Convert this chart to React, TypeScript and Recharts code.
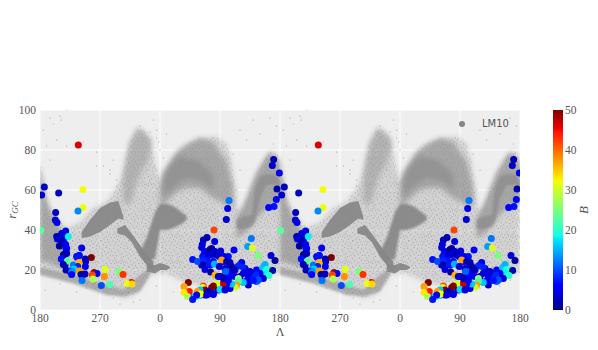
import React from "react";
import {
  ComposedChart, BarChart, Bar, Area, Scatter, XAxis, YAxis, CartesianGrid,
} from "recharts";

// Tick labels
const lambdaTicks = [0, 90, 180, 270, 360, 450, 540, 630, 720];
const lambdaLabels = ["180", "270", "0", "90", "180", "270", "0", "90", "180"];
const rTicks = [0, 20, 40, 60, 80, 100];
const bTicks = [0, 10, 20, 30, 40, 50];

// Coloured stars: unwrapped longitude (0 = Λ 180), distance, B
const starL = [230,240,247.5,255,260,267.5,275,282.5,292.5,302.5,311,320,330,340,347.5,245,250,255,247.5,262.5,270,275,285,292.5,300,307.5,315,322.5,277.5,285,270,260,255,242.5,277.5,300,287.5,312.5,305,292.5,325,237.5,
  32.5,37.5,30,35,32.5,40,50,55,59,35,32.5,37.5,47.5,45,65,
  57.5,64.5,6.5,2.5,28,23.5,64.5,57,23,25.5,1,34,38.5,25,26,32.5,42.5,29,38.5,39,62.5,36,40,58.5,56,77,68,68.5,32,41,35,68,39,58.5,56.5,51,47.5,48.5,47.5,59,62.5,61.5,67.5,81,85.5,78.5,97.5,96.5,118.5,124.5,79.5,63,92,104.5,137,131,138,
  350.5,348.5,359,355.5,354.5,351,343,283.5,281.5,279.5,261,317,311.5,318.5,327.5,346.5,352.5,250.5,245,243.5,242.5,262,291,257.5,255,260,271,246.5,244,252.5,257.5,265,269,282.5,276,229,236.5,250,245,272.5,261.5,269,280,285,302.5,287.5,297.5,305,245,247.5,256,278.5,291,307.5,314,325,334,337.5,340,345,340,349,343.5,330,324,335,327.5,320,312.5,305,297.5,297.5,295,292.5,285,287.5,280,275,265,260,257.5,245,244,247.5,252.5,240,236,241,222.5,216,224,216,221,232.5,229,235,250,260,270,277.5,262.5,267.5,275,282.5];
const starR = [6.2,7.2,7.5,8.3,7.8,10,10.5,11.2,12.5,14.2,15,15.8,16.2,18.7,20,24.2,25.8,27.5,29.2,29.2,26.7,24.2,22.5,20,22.5,20.8,19.2,18.3,17.5,16.7,16.7,24.2,22.5,22.5,20.8,16.7,19,17.5,18.3,16.7,14.2,7.5,
  38.3,38.3,36.7,35,33.3,30.8,22.5,26.7,27.2,27.5,25.5,22.5,20,19.2,17.8,
  82.5,60.3,61.5,57.5,58.5,48.8,51.2,49.5,45,43.8,39.7,38.3,39.5,36.7,35.5,34.5,36.7,32,32.8,30.8,31,27.8,28.3,27.2,26.2,26.2,25.5,24.2,25.5,24.5,22.8,21.7,20,23.7,21.7,20.5,19.2,18.8,17.8,19.5,18.8,17.8,18,18.8,18.3,17.5,20.3,16.8,19.3,17.7,15.5,14.8,12.2,12.7,13.7,13.2,13,
  75.2,72.2,68.5,60.5,55.2,51.8,51.2,54.7,50.7,45.3,40,35.8,31.7,31,27.3,27.2,24.7,36.3,35,32.8,31.3,34.2,30,30.8,30.3,29.2,29.5,28.3,26.7,27.5,27.8,27.5,26.7,26.7,26.7,25.2,24.2,25,24.2,25,23,21.7,24.2,23.7,23.8,21.7,22,21.3,22.5,20.3,19,19.3,20.3,18.7,18.3,20,21.3,22.8,20.3,19.2,18.3,19.7,17.3,18.3,17.5,15.8,15,14.7,12.5,13.7,15.8,14.2,12.5,11.3,10.8,13,13,13.3,13.3,12,11.2,12,11.3,10,9.2,10,9.2,8,13.8,11.7,9.3,8.7,6.7,6.7,5.3,7.5,7.5,8.3,10.3,10,17.5,16.7,15.8,14.7];
const starB = [8,16,5,5,4,3,4,12,17,5,5,9,11,17,21,7,5,3,6,5,3,5,3,5,7,3,3,4,3,6,3,5,7,3,3,3,5,5,4,4,11,20,
  4,4,3,4,4,4,12,5,7,2,6,2,14,4,2,
  46,32,3,3,3,3,32,13,4,4,23,4,4,2,4,2,18,1,5,5,5,1,2,7,7,50,2,2,7,23,2,5,2,36,8,16,11,14,6,37,37,2,2,48,5,42,31,38,25,43,28,12,10,22,45,32,34,
  2,3,5,2,5,7,6,12,4,3,42,12,14,31,25,4,1,2,2,4,4,4,5,2,1,2,4,6,7,2,4,2,4,7,5,7,10,7,8,37,15,4,2,2,5,2,8,8,2,4,1,11,2,4,4,6,16,15,20,24,18,2,20,5,8,4,10,7,3,16,26,22,37,30,5,16,5,47,30,50,50,42,30,50,2,16,37,32,50,37,44,33,28,17,7,5,4,4,17,4,36,4,2,5];

// Sparse LM10 particles outside the dense streams
const sparseL = [40,15,20,30,32,5,10,25,40,15,65,85,95,105,110,115,85,105,115,120,175,180,190,150,170,175,178,165,185,160,300,310,320,330,345,355,290,300,285,295,330,340,350,8,30,55,70,110,150,175,200,215,230,255,270,300,330,345,120,140];
const sparseR = [100,96,93,97,95,90,82,85,82,75,84,72,72,70,75,65,79,68,62,60,86,80,88,92,95,90,84,89,76,70,90,85,95,88,96,92,78,70,64,60,60,75,83,10,13,9,11,6,5,12,9,8,4,6,8,11,12,15,3,4];

// Stream envelopes in one period: [longitude, low r, high r]
const haloBand = [[0,18.3,74],[10,17.5,56],[20,16.7,47.5],[40,15,41],[60,13.3,44],[80,10.8,51],[100,8.3,54],[117.5,7.2,62.5],[125,6.3,69],[132.5,6.3,82.5],[145,8.3,91],[155,12.5,90],[165,17.5,86],[172.5,18.3,74],[180,18.3,64],[190,18.3,71],[205,15.8,79],[220,13.3,83.3],[240,12.5,86],[265,14.2,86.7],[280,15,83],[287.5,15.8,74],[292.5,16,61],[297.5,16.5,49],[305,18,51],[315,18.5,61],[325,18.7,68],[335,19,75],[345,19,79],[355,19,79],[360,18.3,74]];
const lowerBand = [[0,17.5,21.5],[50,13.3,17.5],[100,7.5,12.5],[125,6.7,10],[150,9.2,17.5],[165,17.5,21]];
const leftBand = [[0,24,71],[10,24,54],[20,22.5,46],[30,21,41],[40,21,32.5]];
const plumeBand = [[125,54,69],[135,52.5,84],[147.5,66,91],[160,74,87.5],[167.5,81,85]];
const archBand = [[180,51,61],[185,52.5,69],[205,59,79],[220,61,82.5],[240,61,86],[260,56,84],[280,52.5,74],[290,52.5,61]];
const arch2Band = [[295,36,46],[310,39,56],[325,46,69],[345,52.5,79],[360,54,74]];
const wedgeBand = [[62.5,36,39],[75,36.7,45],[90,39,51],[105,42.5,53.7],[117.5,45.8,54.5],[125,45,46.7]];
const diagBand = [[116,38.3,40.8],[127.5,37.2,42.5],[137.5,34,38.3],[150,26.7,32.5],[160,22.5,27.5],[170,19.2,24.2]];
const flatBand = [[160,19.2,23],[172.5,18.3,22.5],[180,20,23.5],[190,20,22.5],[195,21,21.5]];
const riseBand = [[150,27.5,29],[160,24,36],[172.5,25.8,49],[180,40,53],[190,40,53],[200,41,52],[212,43,49],[220,45,47]];
const archCoreBand = [[185,57,66],[195,60,72],[210,64,77],[220,66,76],[235,65,75],[250,63,71],[260,60,67]];
const arch2CoreBand = [[295,40.5,45],[305,40.5,46.7],[317.5,41.7,47.5],[322.5,44,61],[330,56,66.7],[340,62.5,68],[352.5,63,67.5],[360,61,65]];

const speckleA = [[1,2],[5,1],[9,4],[14,1],[19,3],[26,2],[31,5],[36,1],[3,6],[7,9],[12,6],[17,8],[21,5],[28,8],[33,9],[38,6],[1,11],[5,13],[10,11],[15,12],[20,14],[24,11],[30,13],[35,12],[3,16],[8,17],[13,15],[18,17],[22,18],[27,16],[32,17],[37,16],[11,2],[23,10],[6,4],[16,4],[2,21],[7,23],[12,20],[17,22],[22,21],[26,23],[31,20],[36,22],[4,27],[9,26],[14,28],[19,26],[24,28],[29,26],[34,27],[39,25],[1,31],[6,32],[11,30],[16,33],[21,31],[26,32],[31,30],[37,31],[3,35],[13,35],[23,36],[33,35]];
const speckleB = [[0,0],[3,1],[6,0],[9,2],[12,1],[15,0],[1,4],[4,5],[8,4],[11,5],[14,4],[2,8],[6,7],[9,8],[13,8],[15,6],[0,11],[4,10],[7,11],[11,12],[14,11],[2,14],[5,14],[9,15],[12,14],[15,15]];

const bands: { id: string; pts: number[][]; fill: string; opacity?: number; blur: number }[] = [
  { id: "haze", pts: haloBand, fill: "#9c9c9c", opacity: 0.33, blur: 2.5 },
  { id: "halo", pts: haloBand, fill: "url(#speckleA)", blur: 0.3 },
  { id: "lower", pts: lowerBand, fill: "url(#speckleB)", opacity: 0.9, blur: 1.2 },
  { id: "left", pts: leftBand, fill: "url(#speckleB)", blur: 2.2 },
  { id: "plume", pts: plumeBand, fill: "url(#speckleB)", opacity: 0.7, blur: 2.5 },
  { id: "arch", pts: archBand, fill: "url(#speckleB)", blur: 2.5 },
  { id: "arch2", pts: arch2Band, fill: "url(#speckleB)", blur: 2 },
  { id: "wedge", pts: wedgeBand, fill: "#858585", opacity: 0.92, blur: 0.7 },
  { id: "diag", pts: diagBand, fill: "#858585", opacity: 0.92, blur: 0.6 },
  { id: "flat", pts: flatBand, fill: "#858585", opacity: 0.92, blur: 0.6 },
  { id: "rise", pts: riseBand, fill: "#858585", opacity: 0.92, blur: 1.2 },
  { id: "archCore", pts: archCoreBand, fill: "#8e8e8e", opacity: 0.75, blur: 2.5 },
  { id: "arch2Core", pts: arch2CoreBand, fill: "#8e8e8e", opacity: 0.85, blur: 1.2 },
];

const periods = [0, 360];
const rows: Record<string, any>[] = [];
bands.forEach((b) =>
  periods.forEach((off, p) =>
    b.pts.forEach(([L, lo, hi]) => rows.push({ L: L + off, [`${b.id}${p}`]: [lo, hi] }))
  )
);
rows.sort((a, b) => a.L - b.L);

const stars = periods.flatMap((off) => starL.map((L, i) => ({ L: L + off, r: starR[i], B: starB[i] })));
const sparse = periods.flatMap((off) => sparseL.map((L, i) => ({ L: L + off, r: sparseR[i] })));

function lerp(t: number, pts: number[][]) {
  for (let i = 1; i < pts.length; i++) {
    if (t <= pts[i][0]) {
      const [a, va] = pts[i - 1];
      const [b, vb] = pts[i];
      return va + ((vb - va) * (t - a)) / (b - a);
    }
  }
  return pts[pts.length - 1][1];
}
function jet(t: number) {
  const r = lerp(t, [[0, 0], [0.35, 0], [0.66, 1], [0.89, 1], [1, 0.5]]);
  const g = lerp(t, [[0, 0], [0.125, 0], [0.375, 1], [0.64, 1], [0.91, 0], [1, 0]]);
  const b = lerp(t, [[0, 0.5], [0.11, 1], [0.34, 1], [0.65, 0], [1, 0]]);
  return `rgb(${Math.round(r * 255)},${Math.round(g * 255)},${Math.round(b * 255)})`;
}
const gradientStops = [0, 0.11, 0.125, 0.34, 0.35, 0.375, 0.5, 0.64, 0.65, 0.66, 0.89, 0.91, 1];

const TICK_FONT = "'Liberation Serif', serif";
const GREY = "#555555";
const tickStyle = { fontFamily: TICK_FONT, fontSize: 11.5, fill: GREY };

const StarDot = (props: any) => (
  <circle cx={props.cx} cy={props.cy} r={3.5} fill={jet(props.payload.B / 50)} />
);
const SparseDot = (props: any) => (
  <circle cx={props.cx} cy={props.cy} r={0.6} fill="#8a8a8a" fillOpacity={0.8} />
);

const RLabel = () => (
  <text transform="translate(16,210) rotate(-90)" textAnchor="middle" fontFamily={TICK_FONT} fontStyle="italic" fontSize={13} fill={GREY}>
    r<tspan fontSize={9} dy={2}>GC</tspan>
  </text>
);
const LambdaLabel = () => (
  <text x={280} y={336} textAnchor="middle" fontFamily={TICK_FONT} fontSize={12} fill={GREY}>Λ</text>
);
const BLabel = () => (
  <text transform="translate(43,210) rotate(-90)" textAnchor="middle" fontFamily={TICK_FONT} fontStyle="italic" fontSize={13} fill={GREY}>B</text>
);

export default function App() {
  return (
    <div style={{ position: "absolute", left: 0, top: 0, width: 598, height: 350, background: "#fff" }}>
      <ComposedChart width={598} height={350} data={rows} margin={{ top: 110, right: 78, bottom: 0, left: 0 }}>
        <defs>
          <pattern id="speckleA" width={40} height={37} patternUnits="userSpaceOnUse" patternTransform="scale(0.7)">
            {speckleA.map(([x, y], i) => (
              <rect key={i} x={x} y={y} width={1.2} height={1.2} fill="#808080" fillOpacity={0.8} />
            ))}
          </pattern>
          <pattern id="speckleB" width={16} height={16} patternUnits="userSpaceOnUse">
            <rect width={16} height={16} fill="#8f8f8f" fillOpacity={0.62} />
            {speckleB.map(([x, y], i) => (
              <rect key={i} x={x} y={y} width={1} height={1} fill="#808080" fillOpacity={0.6} />
            ))}
          </pattern>
        </defs>
        <CartesianGrid fill="#eeeeee" stroke="#ffffff" strokeWidth={1} verticalValues={lambdaTicks} horizontalValues={rTicks} />
        <XAxis dataKey="L" type="number" domain={[0, 720]} ticks={lambdaTicks} allowDataOverflow height={40}
          tickFormatter={(v: number) => lambdaLabels[lambdaTicks.indexOf(v)]} tick={tickStyle}
          tickLine={false} axisLine={false} tickSize={0} tickMargin={4} interval={0} label={<LambdaLabel />} />
        <YAxis dataKey="r" type="number" domain={[0, 100]} ticks={rTicks} allowDataOverflow width={40}
          tick={tickStyle} tickLine={false} axisLine={false} tickSize={0} tickMargin={4} interval={0} label={<RLabel />} />
        {bands.flatMap((b) =>
          periods.map((_, p) => (
            <Area key={`${b.id}${p}`} dataKey={`${b.id}${p}`} type="linear" connectNulls stroke="none"
              fill={b.fill} fillOpacity={b.opacity ?? 1} dot={false} activeDot={false} isAnimationActive={false}
              legendType="none" style={{ filter: `blur(${b.blur}px)` }} />
          ))
        )}
        <Scatter name="sparse" data={sparse} shape={<SparseDot />} isAnimationActive={false} legendType="none" />
        <Scatter name="stars" data={stars} shape={<StarDot />} isAnimationActive={false} legendType="none" />
      </ComposedChart>
      <div style={{ position: "absolute", left: 458.5, top: 118, display: "flex", alignItems: "center", fontFamily: "'DejaVu Sans', sans-serif", fontSize: 10, color: GREY, lineHeight: "12px" }}>
        <span style={{ display: "inline-block", width: 6.5, height: 6.5, borderRadius: 4, background: "#858585", marginRight: 17 }} />
        <span>LM10</span>
      </div>
      <div style={{ position: "absolute", left: 545, top: 0 }}>
        <BarChart width={53} height={350} data={[{ name: "B", v: 50 }]} margin={{ top: 110, right: 0, bottom: 40, left: 8 }} barCategoryGap={0}>
          <defs>
            <linearGradient id="jetBar" x1="0" y1="1" x2="0" y2="0">
              {gradientStops.map((t) => (
                <stop key={t} offset={t} stopColor={jet(t)} />
              ))}
            </linearGradient>
          </defs>
          <XAxis dataKey="name" hide />
          <YAxis orientation="right" type="number" domain={[0, 50]} ticks={bTicks} width={35} interval={0}
            tick={tickStyle} tickLine={false} axisLine={false} tickSize={0} tickMargin={2} label={<BLabel />} />
          <Bar dataKey="v" fill="url(#jetBar)" isAnimationActive={false} />
        </BarChart>
      </div>
    </div>
  );
}
